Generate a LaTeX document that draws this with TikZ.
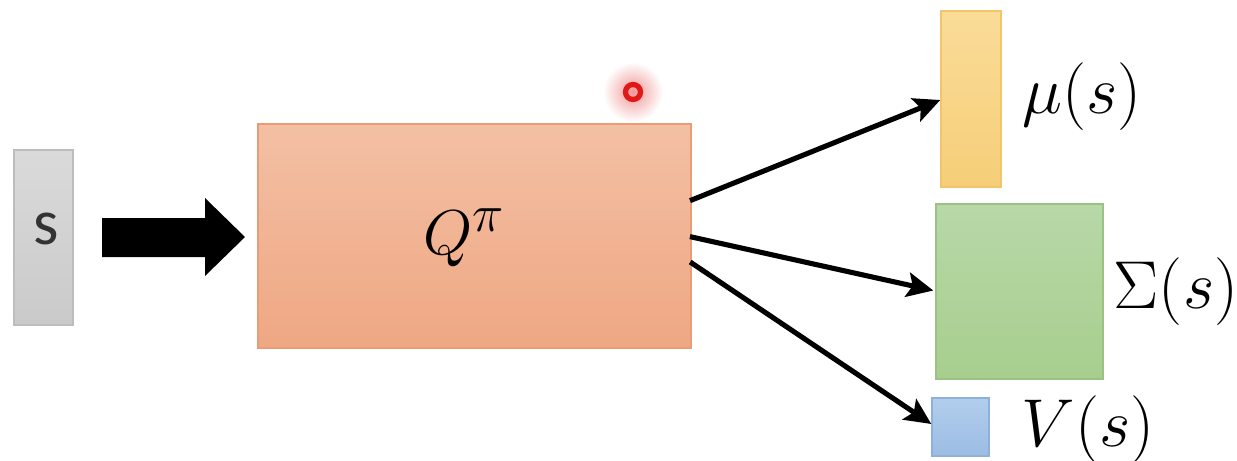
\documentclass[tikz,border=0pt]{standalone}
\usepackage{fontspec}
\newfontfamily\carlito{Carlito}
\usetikzlibrary{arrows.meta,calc}
\definecolor{grayT}{HTML}{DADADA}\definecolor{grayB}{HTML}{CACACA}\definecolor{grayD}{HTML}{BDBDBD}
\definecolor{qT}{HTML}{F3C0A4}\definecolor{qB}{HTML}{EFA783}\definecolor{qD}{HTML}{E99C76}
\definecolor{muT}{HTML}{FADC98}\definecolor{muB}{HTML}{F6CE78}\definecolor{muD}{HTML}{F1C66A}
\definecolor{sgT}{HTML}{B8D8A8}\definecolor{sgB}{HTML}{A7CE8E}\definecolor{sgD}{HTML}{9AC282}
\definecolor{vT}{HTML}{B2CEEE}\definecolor{vB}{HTML}{9CBCE3}\definecolor{vD}{HTML}{8FB0D8}
\definecolor{dotred}{HTML}{E01818}
\tikzset{
  box/.style={draw, line width=0.8pt, inner sep=0pt},
  conn/.style={line width=2.9pt, -{Stealth[length=15pt,width=14pt,inset=3pt]}, shorten <=-1pt},
  lab/.style={font=\fontsize{24.88}{26}\selectfont, inner sep=0pt, scale=1.55}
}
\begin{document}
\begin{tikzpicture}[x=0.02cm,y=-0.02cm]
\useasboundingbox (0,0) rectangle (1237,460);
% input box
\node[box, draw=grayD, top color=grayT, bottom color=grayB, minimum width=1.18cm, minimum height=3.5cm] (s) at (43.5,237.5) {};
\node[font=\carlito\fontsize{37}{39}\selectfont, text=black!80, inner sep=0pt] (stext) at (46,229) {s};
% main box
\node[box, draw=qD, top color=qT, bottom color=qB, minimum width=8.66cm, minimum height=4.48cm] (Q) at (474.5,236) {};
\node[font=\fontsize{24.88}{26}\selectfont, inner sep=0pt, scale=1.45] (qtext) at (464,238) {$Q^{\pi}$};
% block arrow
\fill[black] (102,218) -- (205,218) -- (205,198) -- (245,237) -- (205,276) -- (205,257) -- (102,257) -- cycle;
% output boxes
\node[box, draw=muD, top color=muT, bottom color=muB, minimum width=1.2cm, minimum height=3.52cm] (mu) at (971,99) {};
\node[box, draw=sgD, top color=sgT, bottom color=sgB, minimum width=3.34cm, minimum height=3.5cm] (sg) at (1019.5,291.5) {};
\node[box, draw=vD, top color=vT, bottom color=vB, minimum width=1.14cm, minimum height=1.16cm] (v) at (960.5,427) {};
% labels
\node[lab] (mul) at (1082,97) {$\mu(s)$};
\node[lab] (sgl) at (1176,292) {$\Sigma(s)$};
\node[lab] (vl) at (1088,430) {$V(s)$};
% connectors
\draw[conn] ($(Q.east)+(0,-36)$) -- ($(mu.west)+(0,1)$);
\draw[conn] ($(Q.east)+(0,1)$) -- ($(sg.west)+(-2,-1)$);
\draw[conn] ($(Q.east)+(0,27)$) -- ($(v.west)+(0,-3)$);
% pointer dot
\shade[inner color=dotred!45, outer color=white] (633,92) circle (30);
\draw[dotred, line width=3pt] (633,92) circle (7.5);
\end{tikzpicture}
\end{document}
